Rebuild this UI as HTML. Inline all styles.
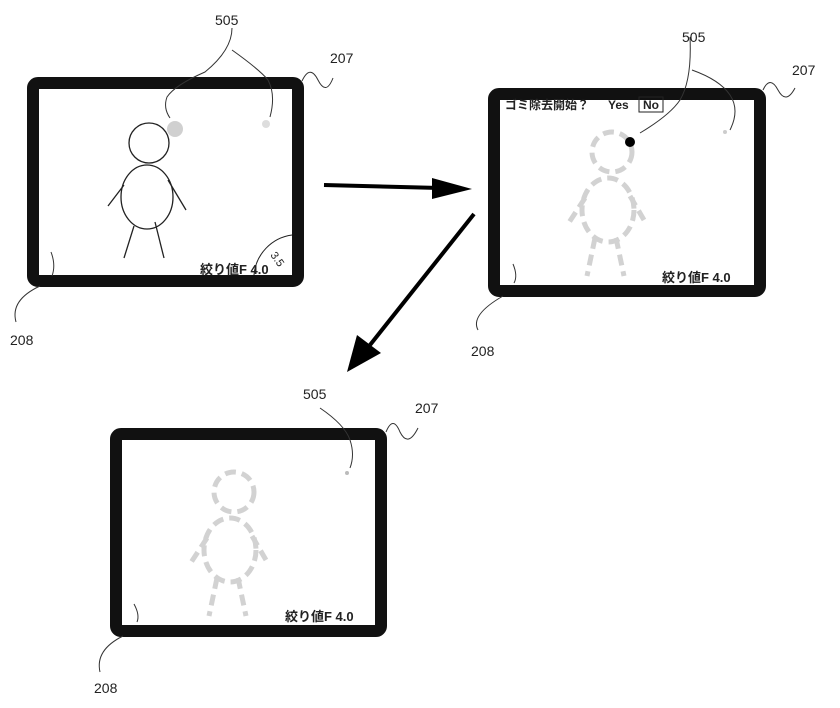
<!DOCTYPE html>
<html><head><meta charset="utf-8"><style>
html,body{margin:0;padding:0;background:#fff;width:840px;height:708px;overflow:hidden}
svg{display:block}
text{font-family:"Liberation Sans","Noto Sans CJK JP",sans-serif;fill:#222}
.b{font-weight:bold}
</style></head><body>
<svg width="840" height="708" viewBox="0 0 840 708" xmlns="http://www.w3.org/2000/svg">
<defs>
<g id="solidfig" fill="none" stroke="#222" stroke-width="1.3">
<circle cx="122" cy="66" r="20"/>
<ellipse cx="120" cy="120" rx="26" ry="32"/>
<line x1="97" y1="108" x2="81" y2="129"/>
<line x1="141" y1="103" x2="159" y2="133"/>
<line x1="107" y1="149" x2="97" y2="181"/>
<line x1="128" y1="145" x2="137" y2="181"/>
</g>
<g id="dashfig" fill="none" stroke="#d2d2d2" stroke-width="5" stroke-dasharray="11 6">
<circle cx="124" cy="64" r="20"/>
<ellipse cx="120" cy="122" rx="26" ry="32"/>
<line x1="97" y1="110" x2="80" y2="136"/>
<line x1="142" y1="108" x2="156" y2="132"/>
<line x1="107" y1="150" x2="99" y2="188"/>
<line x1="128" y1="150" x2="136" y2="188"/>
</g>
</defs>

<!-- Frame 1 -->
<rect x="33" y="83" width="265" height="198" rx="5" fill="#fff" stroke="#111" stroke-width="12"/>
<use href="#solidfig" x="27" y="77"/>
<circle cx="175" cy="129" r="8" fill="#d0d0d0"/>
<circle cx="266" cy="124" r="4" fill="#ddd"/>
<path d="M292 235 A44 44 0 0 0 254 275" fill="none" stroke="#222" stroke-width="1"/>
<text x="270" y="255" font-size="11" transform="rotate(55 270 255)">3.5</text>
<text x="200" y="274" font-size="13" class="b">絞り値F 4.0</text>
<path d="M232 28 Q232 50 205 72 Q175 85 167 97 Q163 108 170 118" fill="none" stroke="#333" stroke-width="1"/>
<path d="M232 50 Q260 70 268 80 Q276 95 270 117" fill="none" stroke="#333" stroke-width="1"/>
<text x="215" y="25" font-size="14">505</text>
<path d="M302 81 Q310 64 318 80 Q326 96 333 78" fill="none" stroke="#333" stroke-width="1"/>
<text x="330" y="63" font-size="14">207</text>
<path d="M51 252 Q56 265 52 276" fill="none" stroke="#333" stroke-width="1"/>
<path d="M40 286 Q10 300 16 322" fill="none" stroke="#333" stroke-width="1"/>
<text x="10" y="345" font-size="14">208</text>

<!-- Arrows -->
<line x1="324" y1="185" x2="440" y2="188" stroke="#000" stroke-width="4"/>
<polygon points="432,178 472,189 432,199" fill="#000"/>
<line x1="474" y1="214" x2="370" y2="345" stroke="#000" stroke-width="4"/>
<polygon points="357,335 381,353 347,372" fill="#000"/>

<!-- Frame 2 -->
<rect x="494" y="94" width="266" height="197" rx="5" fill="#fff" stroke="#111" stroke-width="12"/>
<use href="#dashfig" x="488" y="88"/>
<circle cx="630" cy="142" r="5" fill="#000"/>
<circle cx="725" cy="132" r="2" fill="#ccc"/>
<text x="505" y="109" font-size="12" class="b">ゴミ除去開始？</text>
<text x="608" y="109" font-size="12" class="b">Yes</text>
<rect x="639" y="97" width="24" height="15" fill="none" stroke="#222" stroke-width="1"/>
<text x="643" y="109" font-size="12" class="b">No</text>
<text x="662" y="282" font-size="13" class="b">絞り値F 4.0</text>
<path d="M690 37 Q692 80 680 100 Q670 115 640 133" fill="none" stroke="#333" stroke-width="1"/>
<path d="M692 70 Q720 80 730 95 Q740 110 730 130" fill="none" stroke="#333" stroke-width="1"/>
<text x="682" y="42" font-size="14">505</text>
<path d="M763 90 Q770 75 778 90 Q786 105 795 88" fill="none" stroke="#333" stroke-width="1"/>
<text x="792" y="75" font-size="14">207</text>
<path d="M513 264 Q518 276 514 283" fill="none" stroke="#333" stroke-width="1"/>
<path d="M503 296 Q470 315 478 330" fill="none" stroke="#333" stroke-width="1"/>
<text x="471" y="356" font-size="14">208</text>

<!-- Frame 3 -->
<rect x="116" y="434" width="265" height="197" rx="5" fill="#fff" stroke="#111" stroke-width="12"/>
<use href="#dashfig" x="110" y="428"/>
<circle cx="347" cy="473" r="2" fill="#bbb"/>
<text x="285" y="621" font-size="13" class="b">絞り値F 4.0</text>
<path d="M320 408 Q345 425 350 440 Q355 455 350 468" fill="none" stroke="#333" stroke-width="1"/>
<text x="303" y="399" font-size="14">505</text>
<path d="M386 432 Q393 415 400 432 Q408 448 418 428" fill="none" stroke="#333" stroke-width="1"/>
<text x="415" y="413" font-size="14">207</text>
<path d="M134 604 Q140 615 137 622" fill="none" stroke="#333" stroke-width="1"/>
<path d="M123 636 Q95 650 100 672" fill="none" stroke="#333" stroke-width="1"/>
<text x="94" y="693" font-size="14">208</text>
</svg>
</body></html>
